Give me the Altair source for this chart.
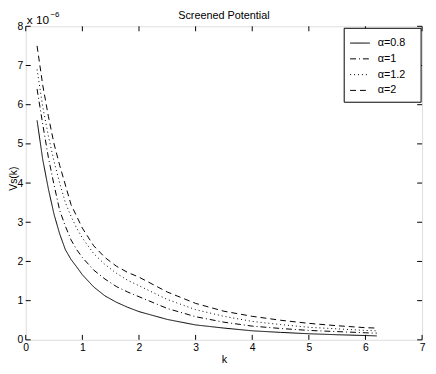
import altair as alt
import pandas as pd

# ---- data (values in units of 1e-6) ----
k_vals = [0.2, 0.3, 0.4, 0.5, 0.6, 0.7, 0.8, 0.9, 1.0, 1.2, 1.4, 1.6, 1.8, 2.0,
          2.5, 3.0, 3.5, 4.0, 4.5, 5.0, 5.5, 6.0, 6.2]
v_a08 = [5.6, 4.6, 3.85, 3.2, 2.7, 2.3, 2.05, 1.86, 1.66, 1.35, 1.12, 0.96, 0.83, 0.72,
         0.52, 0.38, 0.30, 0.23, 0.19, 0.155, 0.13, 0.11, 0.10]
v_a1 = [6.4, 5.5, 4.65, 3.95, 3.3, 2.9, 2.55, 2.3, 2.1, 1.78, 1.55, 1.36, 1.22, 1.1,
        0.8, 0.59, 0.45, 0.35, 0.29, 0.24, 0.21, 0.18, 0.17]
v_a12 = [6.9, 5.95, 5.2, 4.55, 4.0, 3.5, 3.15, 2.85, 2.6, 2.2, 1.92, 1.7, 1.52, 1.38,
         1.03, 0.77, 0.6, 0.47, 0.39, 0.32, 0.28, 0.24, 0.23]
v_a2 = [7.5, 6.5, 5.7, 5.0, 4.45, 3.95, 3.45, 3.15, 2.85, 2.4, 2.1, 1.88, 1.72, 1.6,
        1.22, 0.93, 0.73, 0.6, 0.5, 0.42, 0.36, 0.31, 0.3]
labels = ["α=0.8", "α=1", "α=1.2", "α=2"]
dashes = [[1, 0], [6, 3, 1, 3], [1, 3], [6, 4]]
x_ticks = [0, 1, 2, 3, 4, 5, 6, 7]
y_ticks = [0, 1, 2, 3, 4, 5, 6, 7, 8]
title_text = "Screened Potential"

series = [v_a08, v_a1, v_a12, v_a2]
rows = []
for lab, vals in zip(labels, series):
    for k, v in zip(k_vals, vals):
        rows.append({"k": k, "v": v, "s": lab})
df = pd.DataFrame(rows)

W, H = 402, 318
FONT = "Liberation Sans"

xscale = alt.Scale(domain=[0, 7], nice=False, zero=False)
yscale = alt.Scale(domain=[0, 8], nice=False, zero=False)

xaxis = alt.Axis(values=x_ticks, format="d", ticks=False, domain=False, grid=False,
                 labelFlush=False, labelOverlap=False, labelPadding=3,
                 labelFont=FONT, labelFontSize=10.5, labelColor="black",
                 title="k", titleFont=FONT, titleFontSize=11, titleFontWeight="normal",
                 titleColor="black", titleY=20, titleBaseline="middle", titleX=201)
yaxis = alt.Axis(values=y_ticks, format="d", ticks=False, domain=False, grid=False,
                 labelFlush=False, labelOverlap=False, labelPadding=3,
                 labelFont=FONT, labelFontSize=10.5, labelColor="black",
                 title="Vs(k)", titleFont=FONT, titleFontSize=10.5, titleFontWeight="normal",
                 titleColor="black", titleX=-12.5, titleY=154, titleAngle=270,
                 titleBaseline="middle", titleAlign="center")

X = alt.X("k:Q", scale=xscale, axis=xaxis, title="k")
Y = alt.Y("v:Q", scale=yscale, axis=yaxis, title="Vs(k)")

lines = alt.Chart(df).mark_line(color="black", strokeWidth=1).encode(
    x=X, y=Y,
    strokeDash=alt.StrokeDash("s:N", scale=alt.Scale(domain=labels, range=dashes), legend=None),
    detail="s:N",
)

xt = pd.DataFrame({"k": x_ticks})
yt = pd.DataFrame({"v": y_ticks})
tick_style = dict(color="black", strokeWidth=1)
tb = alt.Chart(xt).mark_rule(**tick_style).encode(x=X, y=alt.value(H), y2=alt.value(H - 5))
tt = alt.Chart(xt).mark_rule(**tick_style).encode(x=X, y=alt.value(0), y2=alt.value(5))
tl = alt.Chart(yt).mark_rule(**tick_style).encode(y=Y, x=alt.value(0), x2=alt.value(5))
tr = alt.Chart(yt).mark_rule(**tick_style).encode(y=Y, x=alt.value(W), x2=alt.value(W - 5))

# title and exponent annotation
title_mark = alt.Chart(pd.DataFrame({"t": [title_text]})).mark_text(
    font=FONT, fontSize=11, align="center", baseline="alphabetic", color="black"
).encode(text="t:N", x=alt.value(W / 2), y=alt.value(-7))
exp_base = alt.Chart(pd.DataFrame({"t": ["x 10"]})).mark_text(
    font=FONT, fontSize=12, align="left", baseline="alphabetic", color="black"
).encode(text="t:N", x=alt.value(1), y=alt.value(-2))
exp_sup = alt.Chart(pd.DataFrame({"t": ["−6"]})).mark_text(
    font=FONT, fontSize=8, align="left", baseline="alphabetic", color="black"
).encode(text="t:N", x=alt.value(25), y=alt.value(-9))

# legend (manual, MATLAB style)
leg_box = alt.Chart(pd.DataFrame({"a": [0]})).mark_rect(
    fill="white", stroke="black", strokeWidth=1
).encode(x=alt.value(323), x2=alt.value(401), y=alt.value(2), y2=alt.value(77))
leg_layers = []
row_y = [17, 33, 49, 65]
for lab, dash, yy in zip(labels, dashes, row_y):
    ldf = pd.DataFrame({"lab": [lab]})
    leg_layers.append(alt.Chart(ldf).mark_rule(color="black", strokeWidth=1, strokeDash=dash).encode(
        x=alt.value(329), x2=alt.value(349), y=alt.value(yy)))
    leg_layers.append(alt.Chart(ldf).mark_text(
        font=FONT, fontSize=11, align="left", baseline="middle", color="black"
    ).encode(text="lab:N", x=alt.value(357), y=alt.value(yy)))

chart = alt.layer(lines, tb, tt, tl, tr, title_mark, exp_base, exp_sup, leg_box, *leg_layers).properties(
    width=W, height=H,
    autosize=alt.AutoSizeParams(type="none"),
    padding={"left": 18, "top": 16, "right": 6, "bottom": 26},
).configure_view(stroke="black", strokeWidth=1).configure(background="white")

chart.save("out.html", embed_options={"renderer": "svg", "actions": False})
